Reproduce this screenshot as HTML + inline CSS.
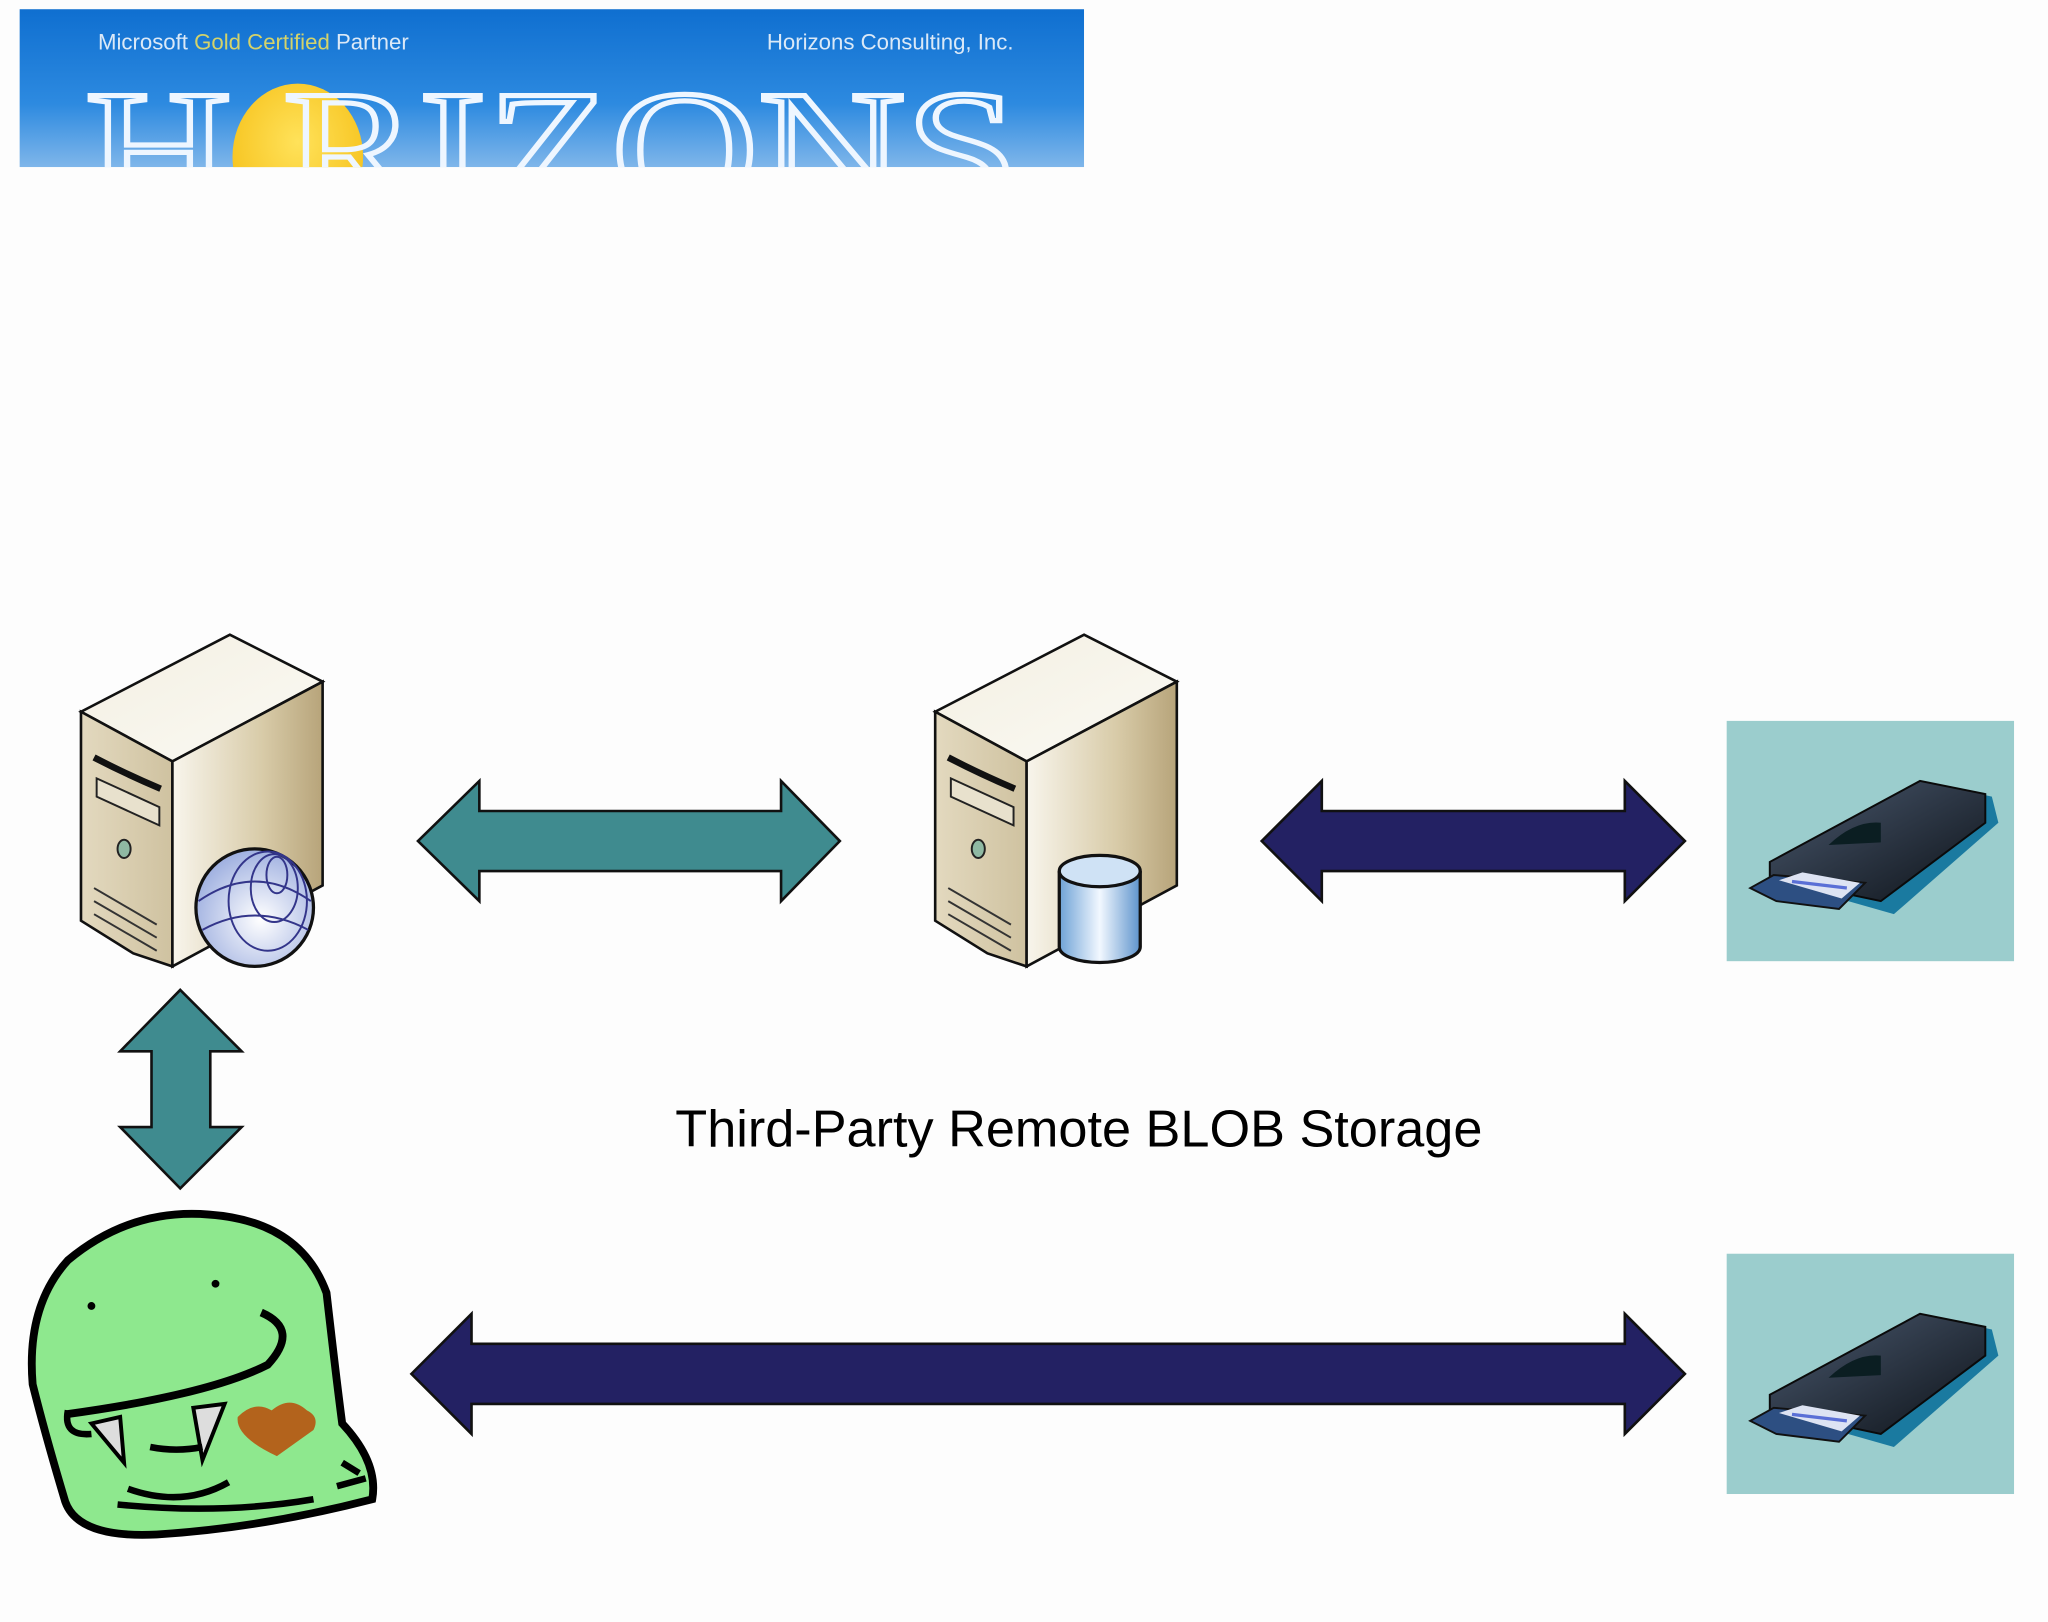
<!DOCTYPE html>
<html><head><meta charset="utf-8"><style>
html,body{margin:0;padding:0;background:#fdfdfd;width:2048px;height:1622px;overflow:hidden}
svg{display:block}
</style></head><body>
<svg width="2048" height="1622" viewBox="0 0 1568 1242" preserveAspectRatio="none" xmlns="http://www.w3.org/2000/svg">
<defs>
<linearGradient id="sky" x1="0" y1="0" x2="0" y2="1"><stop offset="0" stop-color="#0f6fd0"/><stop offset="0.6" stop-color="#2d8ae0"/><stop offset="1" stop-color="#7fb6ea"/></linearGradient>
<radialGradient id="sun" cx="0.5" cy="0.4" r="0.6"><stop offset="0" stop-color="#ffe25a"/><stop offset="1" stop-color="#f6c21c"/></radialGradient>
<linearGradient id="front" x1="0" y1="0" x2="1" y2="0"><stop offset="0" stop-color="#e3d9bf"/><stop offset="1" stop-color="#cfc2a0"/></linearGradient>
<linearGradient id="side" x1="0" y1="0" x2="1" y2="0"><stop offset="0" stop-color="#f8f5ec"/><stop offset="0.6" stop-color="#d8cba8"/><stop offset="1" stop-color="#b7a47a"/></linearGradient>
<linearGradient id="top" x1="0" y1="0" x2="1" y2="1"><stop offset="0" stop-color="#f3efe2"/><stop offset="1" stop-color="#fbfaf4"/></linearGradient>
<radialGradient id="globe" cx="0.55" cy="0.6" r="0.6"><stop offset="0" stop-color="#ffffff"/><stop offset="1" stop-color="#9fb0e0"/></radialGradient>
<linearGradient id="cyl" x1="0" y1="0" x2="1" y2="0"><stop offset="0" stop-color="#6ea2d6"/><stop offset="0.5" stop-color="#f2f8ff"/><stop offset="1" stop-color="#5d93cc"/></linearGradient>
<linearGradient id="drive" x1="0" y1="0" x2="1" y2="1"><stop offset="0" stop-color="#4b5a70"/><stop offset="1" stop-color="#0d1218"/></linearGradient>
<g id="server">
<polygon points="62,545 176,486 247,522 132,583" fill="url(#top)" stroke="#111" stroke-width="2"/>
<polygon points="62,545 132,583 132,740 102,730 62,705" fill="url(#front)" stroke="#111" stroke-width="2"/>
<polygon points="132,583 247,522 247,678 132,740" fill="url(#side)" stroke="#111" stroke-width="2"/>
<path d="M72,580 Q95,592 123,604" stroke="#111" stroke-width="5" fill="none"/>
<path d="M74,596 L122,618 L122,632 L74,610 Z" fill="#e8e1cd" stroke="#222" stroke-width="1.5"/>
<ellipse cx="95" cy="650" rx="5" ry="7" fill="#8fb9a3" stroke="#222" stroke-width="1.5"/>
<path d="M72,680 L120,708 M72,690 L120,718 M72,700 L120,728" stroke="#333" stroke-width="1.5"/>
</g>
</defs>
<rect width="1568" height="1242" fill="#fdfdfd"/>
<!-- logo -->
<svg x="15" y="7" width="815" height="121" overflow="hidden">
<rect width="815" height="121" fill="url(#sky)"/>
<ellipse cx="213" cy="113" rx="50" ry="56" fill="url(#sun)"/>
<text x="60" y="31" font-family="Liberation Sans Narrow, Liberation Sans, sans-serif" font-size="17" fill="#dbe9f7">Microsoft <tspan fill="#d4d36a">Gold Certified</tspan>  Partner</text>
<text x="761" y="31" text-anchor="end" font-family="Liberation Sans Narrow, Liberation Sans, sans-serif" font-size="17" fill="#dbe9f7">Horizons Consulting, Inc.</text>
<text x="50" y="150" font-family="Liberation Serif, serif" font-size="128" fill="none" stroke="#eef6ff" stroke-width="4" textLength="715" lengthAdjust="spacingAndGlyphs">H RIZONS</text>
</svg>
<!-- servers -->
<use href="#server"/>
<circle cx="195" cy="695" r="45" fill="url(#globe)" stroke="#111" stroke-width="2.5"/>
<g fill="none" stroke="#33358a" stroke-width="1.5"><ellipse cx="205" cy="690" rx="30" ry="38"/><ellipse cx="210" cy="680" rx="18" ry="26"/><ellipse cx="212" cy="670" rx="8" ry="14"/><path d="M152,690 Q195,660 238,690 M155,712 Q195,690 236,712"/></g>
<use href="#server" x="654"/>
<path d="M811,667 L811,725 A31,12 0 0 0 873,725 L873,667" fill="url(#cyl)" stroke="#111" stroke-width="2.5"/>
<ellipse cx="842" cy="667" rx="31" ry="12" fill="#cfe2f5" stroke="#111" stroke-width="2.5"/>
<!-- arrows -->
<polygon points="320,644 367,598 367,621 598,621 598,598 643,644 598,690 598,667 367,667 367,690" fill="#3f8b8f" stroke="#111" stroke-width="2"/>
<polygon points="966,644 1012,598 1012,621 1244,621 1244,598 1290,644 1244,690 1244,667 1012,667 1012,690" fill="#232163" stroke="#111" stroke-width="2"/>
<polygon points="138,758 185,805 161,805 161,863 185,863 138,910 92,863 116,863 116,805 92,805" fill="#3f8b8f" stroke="#111" stroke-width="2"/>
<polygon points="315,1052 361,1006 361,1029 1244,1029 1244,1006 1290,1052 1244,1098 1244,1075 361,1075 361,1098" fill="#232163" stroke="#111" stroke-width="2"/>
<text x="826" y="878" text-anchor="middle" font-family="Liberation Sans, sans-serif" font-size="40" fill="#000">Third-Party Remote BLOB Storage</text>
<!-- storage boxes -->
<g id="box">
<rect x="1322" y="552" width="220" height="184" fill="#9bcdcd"/>
<polygon points="1420,635 1480,600 1525,610 1530,630 1450,700 1415,690" fill="#1a7aa0"/>
<polygon points="1355,660 1470,598 1520,608 1520,630 1440,690 1355,672" fill="url(#drive)" stroke="#0a0a0a" stroke-width="1.5"/>
<path d="M1400,647 Q1420,628 1440,630 L1440,645 Z" fill="#0b1e22"/>
<polygon points="1340,680 1358,670 1428,676 1408,696 1360,690" fill="#2d4f82" stroke="#111" stroke-width="1.5"/>
<polygon points="1362,674 1380,668 1424,676 1410,688" fill="#dde3f3"/>
<path d="M1372,675 L1414,680" stroke="#5a6fd6" stroke-width="2.5"/>
</g>
<use href="#box" y="408"/>
<!-- monster -->
<path d="M52,965 Q100,925 160,930 Q230,935 250,990 Q258,1060 262,1090 Q290,1120 285,1148 Q200,1170 120,1175 Q60,1178 50,1150 Q35,1100 25,1060 Q20,1000 52,965 Z" fill="#8ee88e" stroke="#000" stroke-width="6"/>
<circle cx="70" cy="1000" r="3" fill="#000"/><circle cx="165" cy="983" r="3" fill="#000"/>
<path d="M200,1005 Q230,1018 205,1045 Q160,1068 50,1083" stroke="#000" stroke-width="6" fill="none"/>
<path d="M52,1080 Q48,1100 70,1098" stroke="#000" stroke-width="5" fill="none"/>
<polygon points="70,1090 92,1085 95,1120" fill="#ddd" stroke="#000" stroke-width="3"/>
<polygon points="148,1078 172,1075 155,1118" fill="#ddd" stroke="#000" stroke-width="3"/>
<path d="M115,1108 Q135,1112 155,1108" stroke="#000" stroke-width="5" fill="none"/>
<path d="M240,1095 Q245,1085 235,1080 Q222,1068 208,1080 Q195,1072 182,1085 Q180,1100 212,1115 Z" fill="#b3631c"/>
<path d="M98,1140 Q140,1155 175,1135 M90,1152 Q170,1160 240,1148 M262,1120 L275,1128 M258,1138 L280,1132" stroke="#000" stroke-width="5" fill="none"/>
</svg>
</body></html>
